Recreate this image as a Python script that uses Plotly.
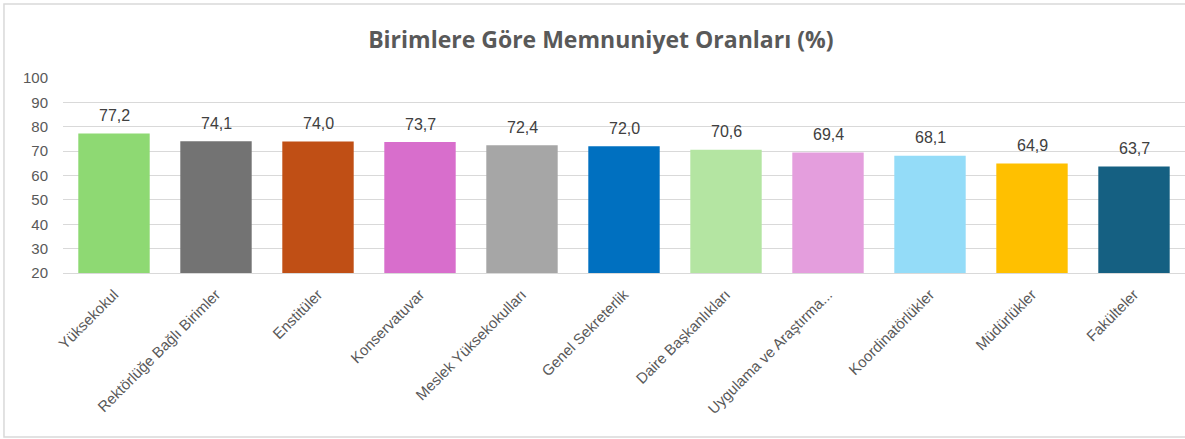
import plotly.graph_objects as go

categories = [
    "Yüksekokul", "Rektörlüğe Bağlı Birimler", "Enstitüler", "Konservatuvar",
    "Meslek Yüksekokulları", "Genel Sekreterlik", "Daire Başkanlıkları",
    "Uygulama ve Araştırma...", "Koordinatörlükler", "Müdürlükler", "Fakülteler",
]
values = [77.2, 74.1, 74.0, 73.7, 72.4, 72.0, 70.6, 69.4, 68.1, 64.9, 63.7]
bar_colors = [
    "#8ED973", "#737373", "#C04F15", "#D86ECC", "#A6A6A6", "#0070C0",
    "#B4E5A2", "#E49EDD", "#94DCF8", "#FFC000", "#156082",
]
y_ticks = [20, 30, 40, 50, 60, 70, 80, 90, 100]

AXIS_FONT = "Liberation Sans, Arial, sans-serif"

fig = go.Figure(go.Bar(
    x=categories,
    y=values,
    marker=dict(color=bar_colors, line=dict(width=0)),
    hovertemplate="%{x}: %{y}<extra></extra>",
))

# value labels a bit above each bar, like the Excel data labels
for cat, val in zip(categories, values):
    fig.add_annotation(
        x=cat, y=val,
        text=f"{val:.1f}".replace(".", ","),
        showarrow=False,
        yanchor="middle", yshift=18,
        font=dict(size=16, color="#404040", family=AXIS_FONT),
    )

fig.update_layout(
    width=1185, height=439,
    paper_bgcolor="white", plot_bgcolor="white",
    font=dict(family=AXIS_FONT, color="#595959"),
    title=dict(
        text="<b>Birimlere Göre Memnuniyet Oranları (%)</b>",
        font=dict(size=23, color="#595959", family="Open Sans, sans-serif"),
        x=0.507, xanchor="center", y=0.91, yanchor="middle",
    ),
    bargap=0.3,
    margin=dict(l=63, r=0, t=78, b=166),
    showlegend=False,
    xaxis=dict(
        tickangle=-45,
        tickfont=dict(size=15, color="#595959"),
        showline=True, linecolor="#D9D9D9",
        showgrid=False,
        ticklabelstandoff=6,
    ),
    yaxis=dict(
        range=[20, 100],
        tickvals=y_ticks,
        tickfont=dict(size=15, color="#595959"),
        gridcolor="#D9D9D9",
        zeroline=False,
        ticklabelstandoff=14,
    ),
    shapes=[dict(
        type="rect", xref="paper", yref="paper",
        x0=-0.0526, x1=1.01, y0=-0.841, y1=1.379,
        line=dict(color="#D9D9D9", width=1.5),
    )],
)

fig.write_html(
    "out.html",
    config={"displayModeBar": False},
    post_script="document.body.style.margin='0';",
)
